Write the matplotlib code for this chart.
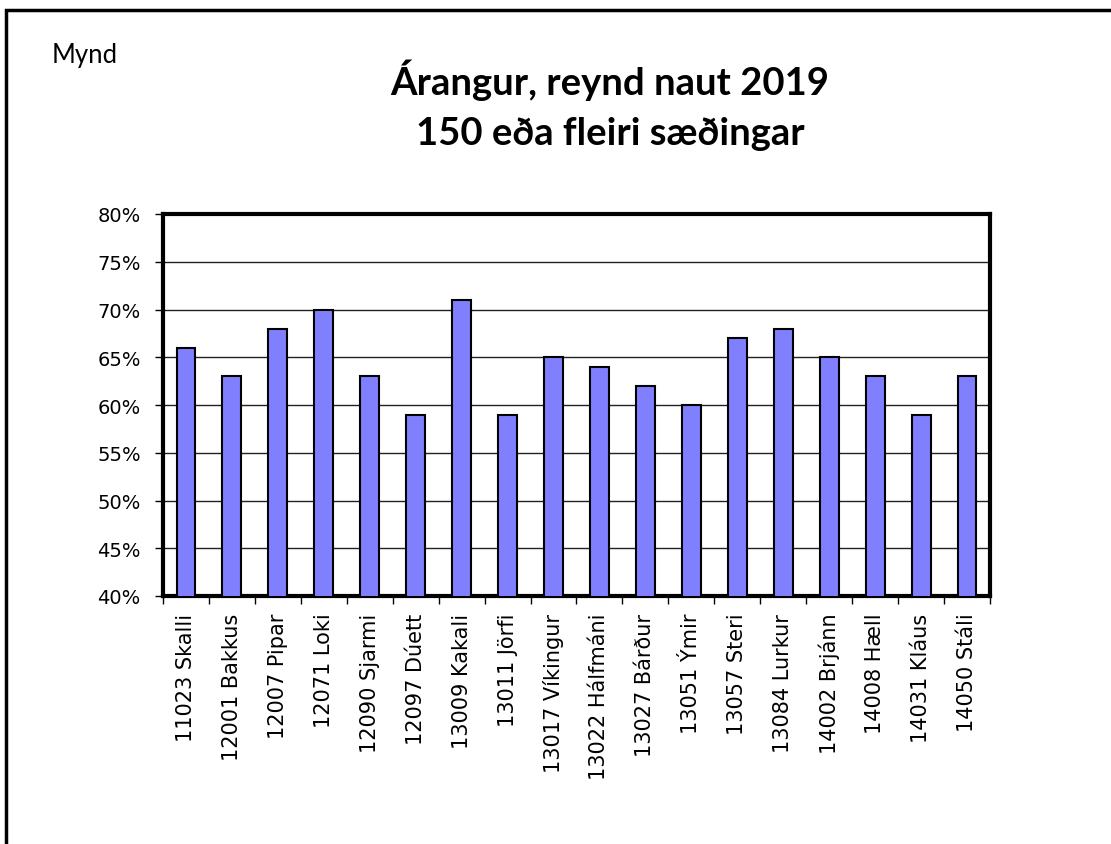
import matplotlib.pyplot as plt
from matplotlib.patches import Rectangle
from matplotlib.ticker import PercentFormatter, MultipleLocator

# data
bulls = ["11023 Skalli", "12001 Bakkus", "12007 Pipar", "12071 Loki",
         "12090 Sjarmi", "12097 Dúett", "13009 Kakali", "13011 Jörfi",
         "13017 Víkingur", "13022 Hálfmáni", "13027 Bárður", "13051 Ýmir",
         "13057 Steri", "13084 Lurkur", "14002 Brjánn", "14008 Hæll",
         "14031 Kláus", "14050 Stáli"]
result = [66, 63, 68, 70, 63, 59, 71, 59, 65, 64, 62, 60, 67, 68, 65, 63, 59, 63]

fig = plt.figure(figsize=(11.11, 8.45), dpi=100)

# outer frame (cut off at the right and bottom)
frame = Rectangle((6 / 1111, -0.1), 1.2, 1 - 11 / 845 + 0.1,
                  transform=fig.transFigure, fill=False,
                  edgecolor="black", linewidth=2.5)
fig.patches.append(frame)

fig.text(52 / 1111, 1 - 56 / 845, "Mynd", fontsize=18.5, family="Lato",
         va="center", ha="left")
fig.text(0.549, 1 - 80 / 845, "Árangur, reynd naut 2019", fontsize=27.5,
         family="Lato", weight="bold", ha="center", va="center")
fig.text(0.549, 1 - 134 / 845, "150 eða fleiri sæðingar", fontsize=27.5,
         family="Lato", weight="bold", ha="center", va="center")

ax = fig.add_axes([163 / 1111, 1 - 597 / 845, 827 / 1111, 382 / 845])
x = range(len(bulls))
ax.bar(x, result, width=0.41, color="#8080FF", edgecolor="black",
       linewidth=1.5, zorder=3)

ax.set_ylim(40, 80)
ax.set_xlim(-0.5, len(bulls) - 0.5)
ax.yaxis.set_major_locator(MultipleLocator(5))
ax.yaxis.set_major_formatter(PercentFormatter(decimals=0))
ax.grid(axis="y", color="#222222", linewidth=1, zorder=0)

ax.set_xticks(list(x))
ax.set_xticklabels(bulls, rotation=90, fontsize=15)
ax.tick_params(axis="x", length=0, pad=12)
ax.set_xticks([i - 0.5 for i in range(len(bulls) + 1)], minor=True)
ax.tick_params(axis="x", which="minor", length=6, width=1, direction="out")
ax.tick_params(axis="y", labelsize=14, length=6, width=1, direction="out",
               pad=10)

for s in ax.spines.values():
    s.set_linewidth(3)

fig.savefig("out.png", dpi=100)
